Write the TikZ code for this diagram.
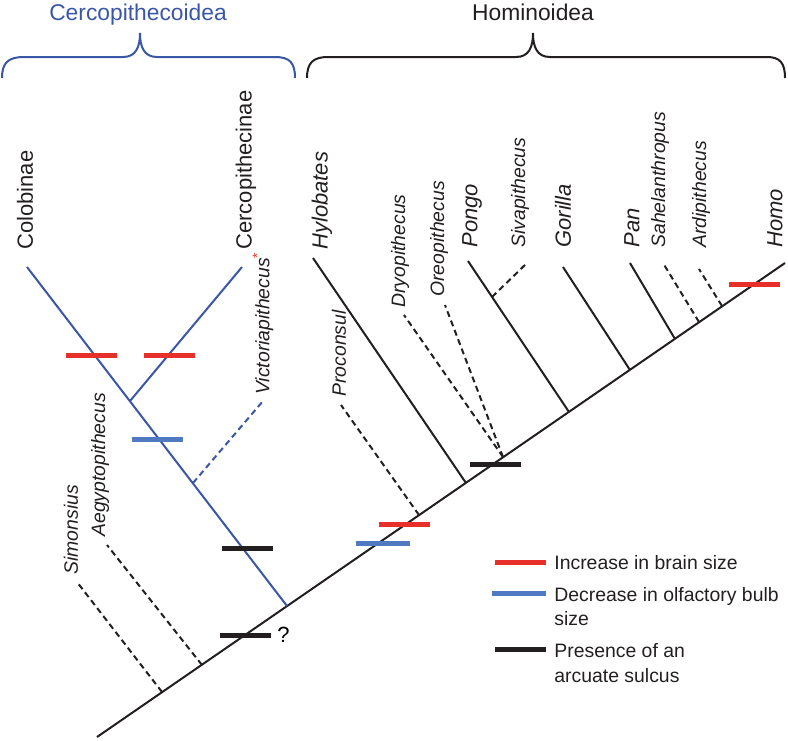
\documentclass[tikz,border=0pt]{standalone}
\usepackage{fontspec}
\setmainfont{Liberation Sans}
\usepackage{xcolor}
\usepackage{tikz}
\usetikzlibrary{positioning,calc}
\definecolor{Ink}{HTML}{231F20}
\definecolor{TreeBlue}{HTML}{3A56A6}
\definecolor{BulbBlue}{HTML}{4F7AC2}
\definecolor{BrainRed}{HTML}{E8302A}
\tikzset{
  treeline/.style={line width=1pt, draw=Ink},
  bluetree/.style={line width=1pt, draw=TreeBlue},
  fossilline/.style={treeline, dash pattern=on 3pt off 2pt},
  bluefossil/.style={bluetree, dash pattern=on 3pt off 2pt},
  bracepath/.style={line width=1pt},
  markbar/.style={rectangle, minimum width=25.5pt, minimum height=2.5pt, inner sep=0pt, draw=none},
  brainbar/.style={markbar, fill=BrainRed},
  bulbbar/.style={markbar, fill=BulbBlue},
  sulcusbar/.style={markbar, fill=Ink},
  taxon/.style={rotate=90, anchor=west, inner sep=0pt, text=Ink, font=\fontsize{11}{13}\selectfont},
  genus/.style={taxon, font=\fontsize{11}{13}\selectfont\itshape},
  fossiltaxon/.style={taxon, font=\fontsize{9.7}{11}\selectfont\itshape},
  grouptitle/.style={anchor=base, inner sep=0pt, font=\fontsize{11.4}{13}\selectfont},
  legtext/.style={anchor=base west, align=left, inner sep=0pt, text=Ink, font=\fontsize{9.7}{12}\selectfont},
}
\begin{document}
\begin{tikzpicture}[x=0.5pt,y=-0.5pt]
\path[use as bounding box] (0,0) rectangle (788,740);

% group braces
\draw[bracepath,TreeBlue] (2,78) .. controls (2,63) and (8,57) .. (24,57) -- (123,57)
  .. controls (136,57) and (140,47) .. (140,33) .. controls (140,47) and (144,57) .. (157,57)
  -- (275,57) .. controls (290,57) and (295,63) .. (295,78);
\node[grouptitle,text=TreeBlue] (cercoTitle) at (138,20) {Cercopithecoidea};
\draw[bracepath,Ink] (307,78) .. controls (307,63) and (313,57) .. (328,57) -- (516,57)
  .. controls (529,57) and (533,47) .. (533,33) .. controls (533,47) and (537,57) .. (550,57)
  -- (767,57) .. controls (780,57) and (785,63) .. (785,78);
\node[grouptitle,text=Ink] (homiTitle) at (533,20) {Hominoidea};

% trunk and junctions
\coordinate (root) at (97,737);
\coordinate (homoTip) at (785,263);
\coordinate (jSim) at (162,692);
\coordinate (jAeg) at (202,665);
\coordinate (jCer) at (287,606);
\coordinate (jPro) at (419,515);
\coordinate (jHyl) at (466,483);
\coordinate (jDry) at (503,457);
\coordinate (jPon) at (569,412);
\coordinate (jGor) at (630,370);
\coordinate (jPan) at (675,339);
\coordinate (jSah) at (699,322);
\coordinate (jArd) at (722,306);
\draw[treeline] (root) -- (homoTip);

% tips
\coordinate (simTip) at (77,582);
\coordinate (aegTip) at (107,545);
\coordinate (colTip) at (27,267);
\coordinate (cerTip) at (242,267);
\coordinate (vicTip) at (263,401);
\coordinate (jCerc) at (130,401);
\coordinate (jVic) at (193,483);
\coordinate (hylTip) at (313,258);
\coordinate (proTip) at (341,405);
\coordinate (dryTip) at (404,315);
\coordinate (oreTip) at (445,305);
\coordinate (ponTip) at (468,261);
\coordinate (jSiv) at (492,297);
\coordinate (sivTip) at (527,263);
\coordinate (gorTip) at (563,267);
\coordinate (panTip) at (630,263);
\coordinate (sahTip) at (663,263);
\coordinate (ardTip) at (699,269);

% Old World monkeys
\draw[bluetree] (jCer) -- (colTip);
\draw[bluetree] (jCerc) -- (cerTip);
\draw[bluefossil] (jVic) -- (vicTip);
\draw[fossilline] (jSim) -- (simTip);
\draw[fossilline] (jAeg) -- (aegTip);

% apes
\draw[treeline] (jHyl) -- (hylTip);
\draw[fossilline] (jPro) -- (proTip);
\draw[fossilline] (jDry) -- (dryTip);
\draw[fossilline] (jDry) -- (oreTip);
\draw[treeline] (jPon) -- (ponTip);
\draw[fossilline] (jSiv) -- (sivTip);
\draw[treeline] (jGor) -- (gorTip);
\draw[treeline] (jPan) -- (panTip);
\draw[fossilline] (jSah) -- (sahTip);
\draw[fossilline] (jArd) -- (ardTip);

% taxon labels
\node[taxon] (lblCol) at (25,250) {Colobinae};
\node[taxon] (lblCer) at (246,250) {Cercopithecinae};
\node[fossiltaxon] (lblVic) at (263,395) {Victoriapithecus\textsuperscript{\upshape\color{BrainRed}*}};
\node[fossiltaxon] (lblSim) at (71,575) {Simonsius};
\node[fossiltaxon] (lblAeg) at (100,537) {Aegyptopithecus};
\node[genus] (lblHyl) at (322,250) {Hylobates};
\node[fossiltaxon] (lblPro) at (339,397) {Proconsul};
\node[fossiltaxon] (lblDry) at (400,308) {Dryopithecus};
\node[fossiltaxon] (lblOre) at (439,297) {Oreopithecus};
\node[genus] (lblPon) at (472,248) {Pongo};
\node[fossiltaxon] (lblSiv) at (520,248) {Sivapithecus};
\node[genus] (lblGor) at (563,248) {Gorilla};
\node[genus] (lblPan) at (632,248) {Pan};
\node[fossiltaxon] (lblSah) at (660,248) {Sahelanthropus};
\node[fossiltaxon] (lblArd) at (701,248) {Ardipithecus};
\node[genus] (lblHomo) at (775,248) {Homo};

% character changes
\node[brainbar] (brainCol) at (91,355) {};
\node[brainbar] (brainCer) at (169,355) {};
\node[bulbbar] (bulbCerco) at (157,439) {};
\node[sulcusbar] (sulcCerco) at (247,548) {};
\node[sulcusbar] (sulcBase) at (245,635) {};
\node[font=\fontsize{11}{13}\selectfont,inner sep=0pt,right=3pt of sulcBase] (query) {?};
\node[brainbar] (brainApe) at (404,524) {};
\node[bulbbar,minimum width=27pt] (bulbApe) at (383,543) {};
\node[sulcusbar] (sulcApe) at (495,464) {};
\node[brainbar] (brainHomo) at (754,284) {};

% legend (base = last line)
\node[brainbar] (legBrain) at (520,562) {};
\node[bulbbar,minimum width=27pt] (legBulb) at (519,593) {};
\node[sulcusbar] (legSulc) at (520,649) {};
\node[legtext] (legBrainTxt) at (554,569) {Increase in brain size};
\node[legtext] (legBulbTxt) at (554,625) {Decrease in olfactory bulb\\size};
\node[legtext,font=\fontsize{9.7}{12.5}\selectfont] (legSulcTxt) at (554,682) {Presence of an\\arcuate sulcus};
\end{tikzpicture}
\end{document}
